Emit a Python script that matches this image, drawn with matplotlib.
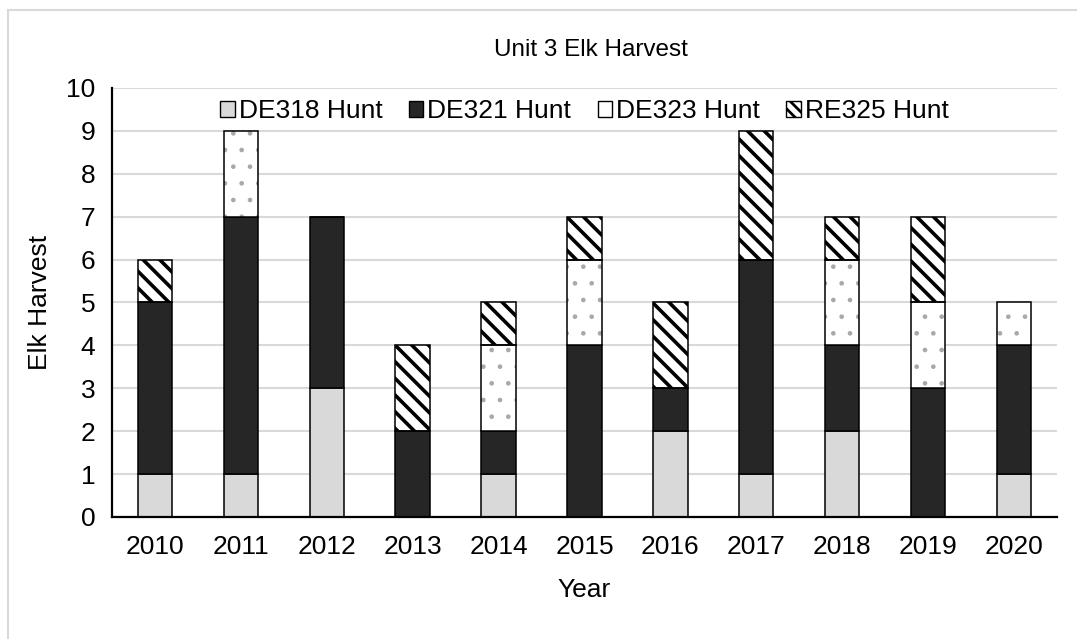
import numpy as np
import matplotlib
matplotlib.use("Agg")
import matplotlib.pyplot as plt
from matplotlib.lines import Line2D
from matplotlib.patches import Patch

plt.rcParams['font.family'] = ['Liberation Sans', 'DejaVu Sans']

years = ['2010', '2011', '2012', '2013', '2014', '2015', '2016', '2017', '2018', '2019', '2020']
de318 = [1, 1, 3, 0, 1, 0, 2, 1, 2, 0, 1]
de321 = [4, 6, 4, 2, 1, 4, 1, 5, 2, 3, 3]
de323 = [0, 2, 0, 0, 2, 2, 0, 0, 2, 2, 1]
re325 = [1, 0, 0, 2, 1, 1, 2, 3, 1, 2, 0]
labels = ['DE318 Hunt', 'DE321 Hunt', 'DE323 Hunt', 'RE325 Hunt']

fig = plt.figure(figsize=(10.77, 6.39), dpi=100)
ax = fig.add_axes([0.104, 0.191, 0.8774, 0.6714])

x = np.arange(len(years))
w = 0.4
b1 = np.array(de318)
b2 = b1 + np.array(de321)
b3 = b2 + np.array(de323)

# solid layers
ax.bar(x, de318, w, color='#d9d9d9', edgecolor='black', linewidth=1.1, zorder=3)
ax.bar(x, de321, w, bottom=b1, color='#262626', edgecolor='black', linewidth=1.1, zorder=3)

# dotted layer: gray dots, then black outline on top
with plt.rc_context({'hatch.linewidth': 0.9}):
    dots = ax.bar(x, de323, w, bottom=b2, color='white', edgecolor='#a8a8a8', linewidth=0,
                  hatch='.', zorder=3)
ax.bar(x, de323, w, bottom=b2, fill=False, edgecolor='black', linewidth=1.1, zorder=4)

# striped layer
with plt.rc_context({'hatch.linewidth': 2.6}):
    stripes = ax.bar(x, re325, w, bottom=b3, color='white', edgecolor='black', linewidth=1.1,
                     hatch='\\\\', zorder=3)

for bars, lw in ((dots, 0.9), (stripes, 2.6)):
    for p in bars:
        if p.get_height() == 0:
            p.set_visible(False)
        if hasattr(p, 'set_hatch_linewidth'):
            p.set_hatch_linewidth(lw)

ax.set_xlim(-0.5, len(years) - 0.5)
ax.set_ylim(0, 10)
ax.set_yticks(range(0, 11))
ax.set_xticks(x)
ax.set_xticklabels(years)
ax.tick_params(axis='both', length=0, labelsize=19)
ax.tick_params(axis='x', pad=13)
ax.tick_params(axis='y', pad=12)
ax.yaxis.grid(True, color='#d9d9d9', linewidth=1.5, zorder=0)
ax.set_axisbelow(True)
for s in ['top', 'right']:
    ax.spines[s].set_visible(False)
for s in ['left', 'bottom']:
    ax.spines[s].set_linewidth(1.6)
    ax.spines[s].set_zorder(5)

ax.set_xlabel('Year', fontsize=19, labelpad=14)
ax.set_ylabel('Elk Harvest', fontsize=19, labelpad=10)
fig.text(591 / 1077, 1 - 50 / 639, 'Unit 3 Elk Harvest', fontsize=17.5, ha='center', va='center')

# legend
handles = [
    Patch(facecolor='#d9d9d9', edgecolor='black', linewidth=1),
    Patch(facecolor='#262626', edgecolor='black', linewidth=1),
    Patch(facecolor='white', edgecolor='black', linewidth=1),
    Patch(facecolor='white', edgecolor='black', linewidth=1, hatch='\\\\\\'),
]
leg = ax.legend(handles, labels, loc='center', bbox_to_anchor=(0.5, 0.946), ncol=4, frameon=False,
                fontsize=19, handlelength=0.55, handleheight=0.55, handletextpad=0.15,
                columnspacing=1.0)
leg.set_zorder(6)
for p in leg.get_patches():
    if hasattr(p, 'set_hatch_linewidth'):
        p.set_hatch_linewidth(2.0)

# chart area border (only top and left visible)
fig.add_artist(Line2D([8 / 1077, 1.0], [1 - 10 / 639, 1 - 10 / 639], color='#d9d9d9', linewidth=1.5,
                      transform=fig.transFigure))
fig.add_artist(Line2D([8 / 1077, 8 / 1077], [0.0, 1 - 10 / 639], color='#d9d9d9', linewidth=1.5,
                      transform=fig.transFigure))

fig.savefig('out.png', dpi=100, facecolor='white')
